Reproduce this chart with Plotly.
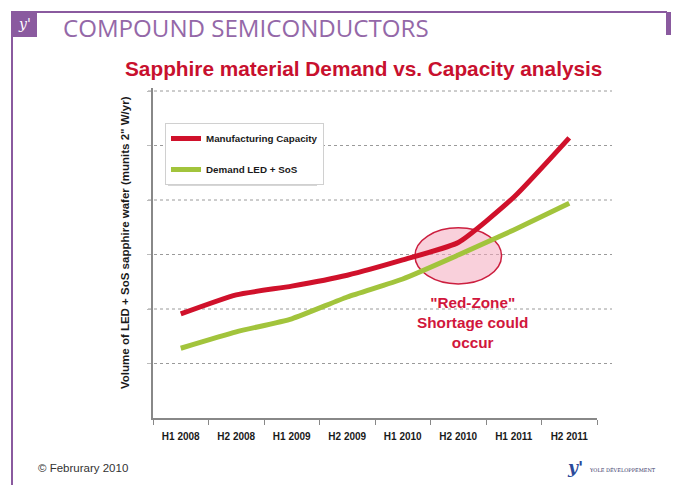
import plotly.graph_objects as go

periods = ["H1 2008", "H2 2008", "H1 2009", "H2 2009", "H1 2010", "H2 2010", "H1 2011", "H2 2011"]
capacity = [1.91, 2.26, 2.42, 2.62, 2.90, 3.22, 4.05, 5.14]
demand = [1.28, 1.58, 1.82, 2.22, 2.55, 2.99, 3.45, 3.94]
grid_levels = [1, 2, 3, 4, 5, 6]
y_title = "Volume of LED + SoS sapphire wafer (munits 2\" W/yr)"

OFF = 8  # default page margin of the html body
W, H = 679 - OFF, 485 - OFF
L, R, T, B = 153 - OFF, 90 - OFF, 88 - OFF, 67
PW, PH = W - L - R, H - T - B


def px(x):
    return (x - OFF - L) / PW


def py(y):
    return (H - B - (y - OFF)) / PH


RED = "#d0112b"
GREEN = "#a2c43c"
PURPLE = "#8a5a9f"

fig = go.Figure()
fig.add_trace(go.Scatter(x=periods, y=capacity, mode="lines", name="<b>Manufacturing Capacity</b>",
                         legendgroup="a",
                         line=dict(color=RED, width=5, shape="spline", smoothing=0.5)))
fig.add_trace(go.Scatter(x=periods, y=demand, mode="lines", name="<b>Demand LED + SoS</b>",
                         legendgroup="b",
                         line=dict(color=GREEN, width=5, shape="spline", smoothing=0.5)))

shapes = []
for g in grid_levels:
    shapes.append(dict(type="line", xref="paper", yref="y", x0=px(148), x1=px(612), y0=g, y1=g,
                       line=dict(color="#9a9a9a", width=1, dash="dot"), layer="below"))
shapes.append(dict(type="circle", xref="x", yref="y", x0=4.22, x1=5.78, y0=2.46, y1=3.49,
                   fillcolor="rgba(244,170,190,0.55)", line=dict(color="#cc1f3f", width=1.5),
                   layer="below"))
shapes.append(dict(type="rect", xref="paper", yref="paper", x0=px(168), x1=px(317), y0=py(186), y1=py(128),
                   fillcolor="rgba(0,0,0,0.16)", line=dict(width=0), layer="below"))
shapes.append(dict(type="line", xref="paper", yref="paper", x0=px(11), x1=px(667), y0=py(12), y1=py(12),
                   line=dict(color=PURPLE, width=2)))
shapes.append(dict(type="line", xref="paper", yref="paper", x0=px(12), x1=px(12), y0=py(12), y1=py(485),
                   line=dict(color=PURPLE, width=2)))
shapes.append(dict(type="rect", xref="paper", yref="paper", x0=px(666), x1=px(680), y0=py(35), y1=py(12),
                   fillcolor=PURPLE, line=dict(width=0)))
shapes.append(dict(type="rect", xref="paper", yref="paper", x0=px(11), x1=px(37), y0=py(37), y1=py(11),
                   fillcolor=PURPLE, line=dict(width=0)))

annotations = [
    dict(text="COMPOUND SEMICONDUCTORS", xref="paper", yref="paper", x=px(61), y=py(27),
         xanchor="left", yanchor="middle", showarrow=False,
         font=dict(family="Open Sans", size=24.1, color="#9468a8")),
    dict(text="<b>Sapphire material Demand vs. Capacity analysis</b>", xref="paper", yref="paper",
         x=px(363), y=py(68), xanchor="center", yanchor="middle", showarrow=False,
         font=dict(family="Liberation Sans, Arial", size=20.8, color="#c8102e")),
    dict(text="<b>" + y_title + "</b>", xref="paper", yref="paper", x=px(125), y=py(243),
         xanchor="center", yanchor="middle", textangle=-90, showarrow=False,
         font=dict(family="Liberation Sans, Arial", size=11.5, color="#1a1a1a")),
    dict(text="<b>\"Red-Zone\"<br>Shortage could<br>occur</b>", xref="x", yref="y", x=5.26, y=1.76,
         xanchor="center", yanchor="middle", showarrow=False,
         font=dict(family="Liberation Sans, Arial", size=15.3, color="#d1163c")),
    dict(text="© Februrary 2010", xref="paper", yref="paper", x=px(36), y=py(468),
         xanchor="left", yanchor="middle", showarrow=False,
         font=dict(family="Liberation Sans, Arial", size=11.5, color="#333333")),
    dict(text="<i>y'</i>", xref="paper", yref="paper", x=px(24), y=py(24),
         xanchor="center", yanchor="middle", showarrow=False,
         font=dict(family="DejaVu Serif", size=14, color="white")),
    dict(text="<b><i>y'</i></b>", xref="paper", yref="paper", x=px(575), y=py(467),
         xanchor="center", yanchor="middle", showarrow=False,
         font=dict(family="DejaVu Serif", size=17, color="#2b4a9a")),
    dict(text="YOLE DÉVELOPPEMENT", xref="paper", yref="paper", x=px(587), y=py(470),
         xanchor="left", yanchor="middle", showarrow=False,
         font=dict(family="DejaVu Serif", size=5, color="#333366")),
]

fig.update_layout(
    width=W, height=H,
    margin=dict(l=L, r=R, t=T, b=B, autoexpand=False),
    paper_bgcolor="white", plot_bgcolor="white",
    showlegend=True,
    legend=dict(x=px(165), y=py(123), xanchor="left", yanchor="top",
                bgcolor="white", bordercolor="#d0d0d0", borderwidth=1,
                font=dict(family="Liberation Sans, Arial", size=9.8, color="#1a1a1a"),
                tracegroupgap=12, itemwidth=30, traceorder="grouped"),
    shapes=shapes,
    annotations=annotations,
    xaxis=dict(type="category", range=[-0.5, 7.5], tickson="boundaries", ticks="outside",
               ticklen=5, tickcolor="#888888", showline=True, linecolor="#888888", linewidth=1.5,
               showgrid=False, zeroline=False,
               tickfont=dict(family="Liberation Sans, Arial", size=10, color="#1a1a1a", weight="bold"),
               ticklabelstandoff=8),
    yaxis=dict(range=[0, 6.055], showgrid=False, zeroline=False, showline=True,
               linecolor="#888888", linewidth=1.5, showticklabels=False,
               ticks="outside", ticklen=4, tickcolor="#bbbbbb", tickvals=grid_levels),
)

fig.write_html("out.html")
